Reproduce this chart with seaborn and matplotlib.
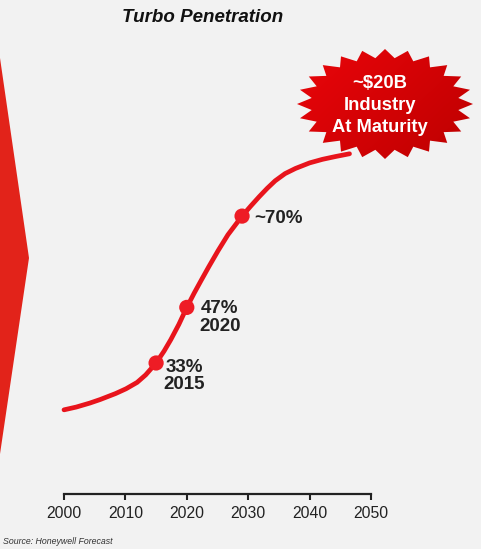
import numpy as np
import pandas as pd
import matplotlib
matplotlib.use("Agg")
import matplotlib.pyplot as plt
from matplotlib.patches import Polygon, Rectangle
import seaborn as sns

# Turbo penetration curve (share of vehicles, %)
years = [2000.0, 2002.0, 2004.2, 2005.9, 2008.4, 2010.1, 2011.9, 2013.3,
         2015.0, 2016.3, 2017.4, 2018.7, 2020.0, 2021.2, 2022.3, 2023.6,
         2025.1, 2026.7, 2029.0, 2030.4, 2031.8, 2033.1, 2034.4, 2036.0,
         2037.7, 2040.0, 2042.1, 2044.2, 2046.5]
penetration = [21.2, 21.9, 22.9, 23.8, 25.3, 26.5, 28.1, 30.0,
               33.0, 36.0, 38.9, 42.7, 47.0, 50.6, 53.7, 57.3,
               61.3, 65.3, 70.0, 72.5, 74.9, 77.0, 78.9, 80.7,
               82.0, 83.4, 84.3, 85.0, 85.7]

# Highlighted milestones
milestone_years = [2015, 2020, 2029]
milestone_values = [33, 47, 70]
milestone_labels = ["33%\n2015", "47%\n2020", "~70%"]

tick_years = [2000, 2010, 2020, 2030, 2040, 2050]
title = "Turbo Penetration"
burst_lines = ["~$20B", "Industry", "At Maturity"]
source = "Source: Honeywell Forecast"

W, H = 486, 549
DPI = 100
BG = "#f2f2f2"
RED = "#e8141c"

sns.set_style("white")
plt.rcParams["font.family"] = ["Liberation Sans", "DejaVu Sans"]

fig = plt.figure(figsize=(W / DPI, H / DPI), dpi=DPI, facecolor=BG)

# pixel-space layers behind and in front of the chart
bg = fig.add_axes([0, 0, 1, 1], zorder=0)
bg.set_xlim(0, W); bg.set_ylim(H, 0); bg.axis("off")
fg = fig.add_axes([0, 0, 1, 1], zorder=3)
fg.set_xlim(0, W); fg.set_ylim(H, 0); fg.axis("off")
fg.patch.set_alpha(0)

# chevron on the left edge and white margin on the right
bg.add_patch(Polygon([(0, 58), (29, 258), (0, 454)], closed=True,
                     facecolor="#e2231a", edgecolor="none"))
bg.add_patch(Rectangle((481, 0), 5, H, facecolor="white", edgecolor="none"))

# main chart axes: x spans 2000-2050, y baseline 0% at the axis line
left_px, right_px, base_px = 64, 371, 494
px_per_pct = 3.97
top_px = base_px - 100 * px_per_pct
ax = fig.add_axes([left_px / W, 1 - base_px / H,
                   (right_px - left_px) / W, (base_px - top_px) / H], zorder=1)
ax.patch.set_alpha(0)

df = pd.DataFrame({"year": years, "pen": penetration})
ms = pd.DataFrame({"year": milestone_years, "pen": milestone_values})
sns.lineplot(data=df, x="year", y="pen", ax=ax, color=RED, linewidth=3.4,
             clip_on=False, solid_capstyle="round", solid_joinstyle="round")
sns.scatterplot(data=ms, x="year", y="pen", ax=ax, color="#ee1c25", s=120,
                edgecolor="none", zorder=4, clip_on=False)

ax.set_xlim(2000, 2050)
ax.set_ylim(0, 100)
ax.set_xlabel(""); ax.set_ylabel("")
ax.set_yticks([])
ax.set_xticks(tick_years)
ax.set_xticklabels([str(t) for t in tick_years], fontsize=11.3, color="#222222")
ax.tick_params(axis="x", bottom=True, direction="out", length=4, width=1.5,
               color="#222222", pad=5)
for side in ("left", "right", "top"):
    ax.spines[side].set_visible(False)
ax.spines["bottom"].set_linewidth(1.6)
ax.spines["bottom"].set_color("#222222")

offsets = [(28, -13), (33, -10), (12, -2)]
aligns = ["center", "center", "left"]
for yr, v, lab, off, al in zip(milestone_years, milestone_values,
                               milestone_labels, offsets, aligns):
    ax.annotate(lab, (yr, v), xytext=off, textcoords="offset pixels",
                ha=al, va="center", fontsize=13.5, fontweight="bold",
                color="#222222", linespacing=1.05, multialignment="center")

# title and source
fg.text(203, 18, title, ha="center", va="center", fontsize=13.5,
        fontweight="bold", fontstyle="italic", color="#111111")
fg.text(3, 542, source, ha="left", va="center", fontsize=6.3,
        fontstyle="italic", color="#333333")

# starburst callout with a red gradient
cx, cy, rx, ry = 385, 104, 88, 55
n_pts = 24
ang = np.linspace(0, 2 * np.pi, 2 * n_pts, endpoint=False) - np.pi / 2
rad = np.where(np.arange(2 * n_pts) % 2 == 0, 1.0, 0.84)
star_xy = np.column_stack([cx + rx * rad * np.cos(ang), cy + ry * rad * np.sin(ang)])
star = Polygon(star_xy, closed=True, facecolor="none", edgecolor="none")
fg.add_patch(star)
gx, gy = np.meshgrid(np.linspace(-1, 1, 200), np.linspace(-1, 1, 200))
gr = np.clip(((gx + 1) * 0.6 + (1 - gy) * 0.4) / 2.0, 0, 1)
c0 = np.array([0.92, 0.02, 0.04]); c1 = np.array([0.74, 0.0, 0.0])
img = c0[None, None, :] * (1 - gr[..., None]) + c1[None, None, :] * gr[..., None]
im = fg.imshow(img, extent=(cx - rx, cx + rx, cy + ry, cy - ry), zorder=2,
               interpolation="bilinear", origin="lower")
im.set_clip_path(star)
fg.set_xlim(0, W); fg.set_ylim(H, 0)
fg.set_aspect("auto")
for txt, ty in zip(burst_lines, [83, 105, 127]):
    fg.text(380, ty, txt, ha="center", va="center", fontsize=13.2,
            fontweight="bold", color="white", zorder=3)

fig.savefig("out.png", dpi=DPI, facecolor=BG)
